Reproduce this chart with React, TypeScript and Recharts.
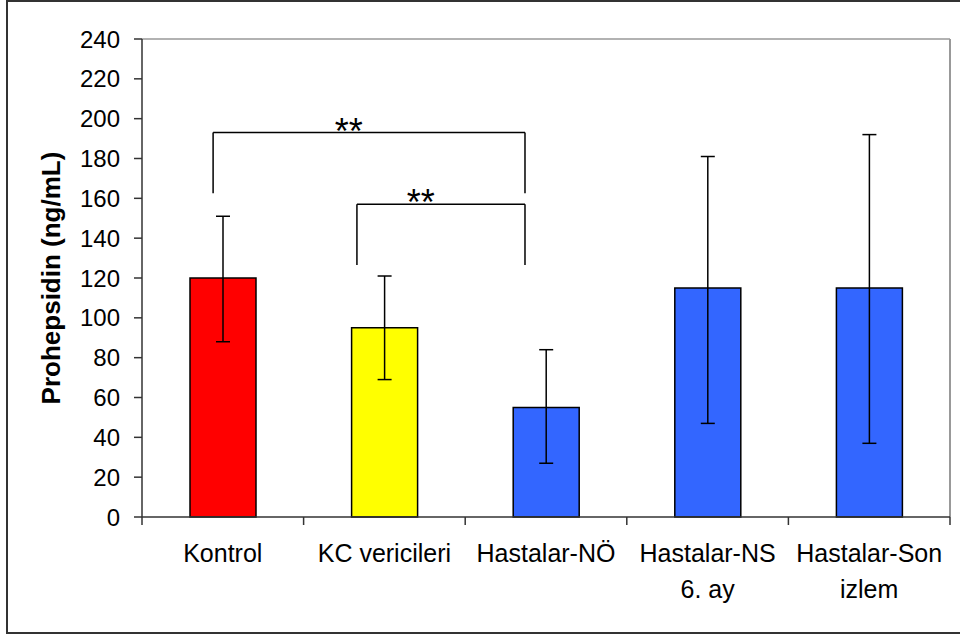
import React from 'react';
import {
  BarChart,
  Bar,
  Cell,
  ErrorBar,
  XAxis,
  YAxis,
  ReferenceLine,
  ReferenceDot,
} from 'recharts';

const categories = ['Kontrol', 'KC vericileri', 'Hastalar-NÖ', 'Hastalar-NS\n6. ay', 'Hastalar-Son\nizlem'];
const means = [120, 95, 55, 115, 115];
const lows = [88, 69, 27, 47, 37];
const highs = [151, 121, 84, 181, 192];
const barColors = ['#FF0000', '#FFFF00', '#3366FF', '#3366FF', '#3366FF'];
const yTicks = [0, 20, 40, 60, 80, 100, 120, 140, 160, 180, 200, 220, 240];
const xBoundaryTicks = [0, 1, 2, 3, 4, 5];

// significance brackets, x in category units (0..5), y in ng/mL
const brackets = [
  { x1: 0.44, x2: 2.37, top: 193, bottom: 162.5 },
  { x1: 1.33, x2: 2.37, top: 157, bottom: 126.5 },
];
const stars = [
  { x: 1.28, y: 187.5, text: '**' },
  { x: 1.725, y: 151.8, text: '**' },
];

const WIDTH = 960;
const HEIGHT = 637;
const LEFT = 142;
const RIGHT = 10;
const BAND = (WIDTH - LEFT - RIGHT) / categories.length;

const data = categories.map((name, i) => ({
  name,
  pos: i + 0.5,
  value: means[i],
  err: [means[i] - lows[i], highs[i] - means[i]],
}));

function CategoryTick(props: any) {
  const { x, y, payload } = props;
  const i = Math.round(Number(payload.value));
  if (i >= categories.length) return <g />;
  const lines = categories[i].split('\n');
  const cx = x + BAND / 2;
  return (
    <text x={cx} y={y + 35} textAnchor="middle" fontSize={25} fill="#000">
      {lines.map((l, k) => (
        <tspan key={k} x={cx} dy={k === 0 ? 0 : 36}>
          {l}
        </tspan>
      ))}
    </text>
  );
}

function YLabel(props: any) {
  const vb = props.viewBox || { x: 0, y: 39, width: LEFT, height: 478 };
  const x = vb.x + 51;
  const y = vb.y + vb.height / 2;
  return (
    <text
      x={x}
      y={y}
      transform={`rotate(-90, ${x}, ${y})`}
      textAnchor="middle"
      dominantBaseline="central"
      fontSize={26}
      fontWeight="bold"
      fill="#000"
    >
      Prohepsidin (ng/mL)
    </text>
  );
}

export default function App() {
  return (
    <div
      style={{
        position: 'absolute',
        left: 0,
        top: 0,
        width: WIDTH,
        height: HEIGHT,
        overflow: 'hidden',
        background: '#fff',
        fontFamily: '"Liberation Sans", Arial, sans-serif',
      }}
    >
      <div style={{ position: 'absolute', left: 0, top: 0 }}>
        <BarChart width={WIDTH} height={HEIGHT} data={data} margin={{ top: 39, right: RIGHT, bottom: 0, left: 0 }}>
          <XAxis xAxisId="cat" dataKey="name" type="category" hide height={0} />
          <XAxis
            xAxisId="num"
            dataKey="pos"
            type="number"
            domain={[0, 5]}
            ticks={xBoundaryTicks}
            height={120}
            tickSize={8}
            tickLine={{ stroke: '#333', strokeWidth: 1.5 }}
            axisLine={{ stroke: '#333', strokeWidth: 1.5 }}
            tick={<CategoryTick />}
            interval={0}
            allowDataOverflow
          />
          <YAxis
            domain={[0, 240]}
            ticks={yTicks}
            width={LEFT}
            interval={0}
            tickSize={8}
            tickMargin={14}
            tick={{ fill: '#000', fontSize: 24 }}
            tickLine={{ stroke: '#333', strokeWidth: 1.5 }}
            axisLine={{ stroke: '#333', strokeWidth: 1.5 }}
            label={(p: any) => <YLabel {...p} />}
          />
          <ReferenceLine xAxisId="num" y={240} stroke="#999" strokeWidth={1.5} />
          <ReferenceLine xAxisId="num" x={5} stroke="#999" strokeWidth={2} />
          <Bar
            xAxisId="cat"
            dataKey="value"
            barSize={66}
            stroke="#000"
            strokeWidth={1.5}
            isAnimationActive={false}
          >
            {data.map((d, i) => (
              <Cell key={d.name} fill={barColors[i]} />
            ))}
            <ErrorBar dataKey="err" width={7} stroke="#000" strokeWidth={1.5} isAnimationActive={false} />
          </Bar>
          {brackets.map((b, i) => (
            <ReferenceLine
              key={`h${i}`}
              xAxisId="num"
              segment={[
                { x: b.x1, y: b.top },
                { x: b.x2, y: b.top },
              ]}
              stroke="#000"
              strokeWidth={1.5}
            />
          ))}
          {brackets.map((b, i) => (
            <ReferenceLine
              key={`l${i}`}
              xAxisId="num"
              segment={[
                { x: b.x1, y: b.top },
                { x: b.x1, y: b.bottom },
              ]}
              stroke="#000"
              strokeWidth={1.5}
            />
          ))}
          {brackets.map((b, i) => (
            <ReferenceLine
              key={`r${i}`}
              xAxisId="num"
              segment={[
                { x: b.x2, y: b.top },
                { x: b.x2, y: b.bottom },
              ]}
              stroke="#000"
              strokeWidth={1.5}
            />
          ))}
          {stars.map((s, i) => (
            <ReferenceDot
              key={`s${i}`}
              xAxisId="num"
              x={s.x}
              y={s.y}
              r={0}
              shape={(p: any) => (
                <text x={p.cx} y={p.cy} textAnchor="middle" fontSize={36} fill="#000">
                  {s.text}
                </text>
              )}
            />
          ))}
        </BarChart>
      </div>
      <div
        style={{
          position: 'absolute',
          left: 6,
          top: 0,
          width: 980,
          height: 634,
          border: '2px solid #333',
          boxSizing: 'border-box',
          pointerEvents: 'none',
          zIndex: 2,
        }}
      />
    </div>
  );
}
